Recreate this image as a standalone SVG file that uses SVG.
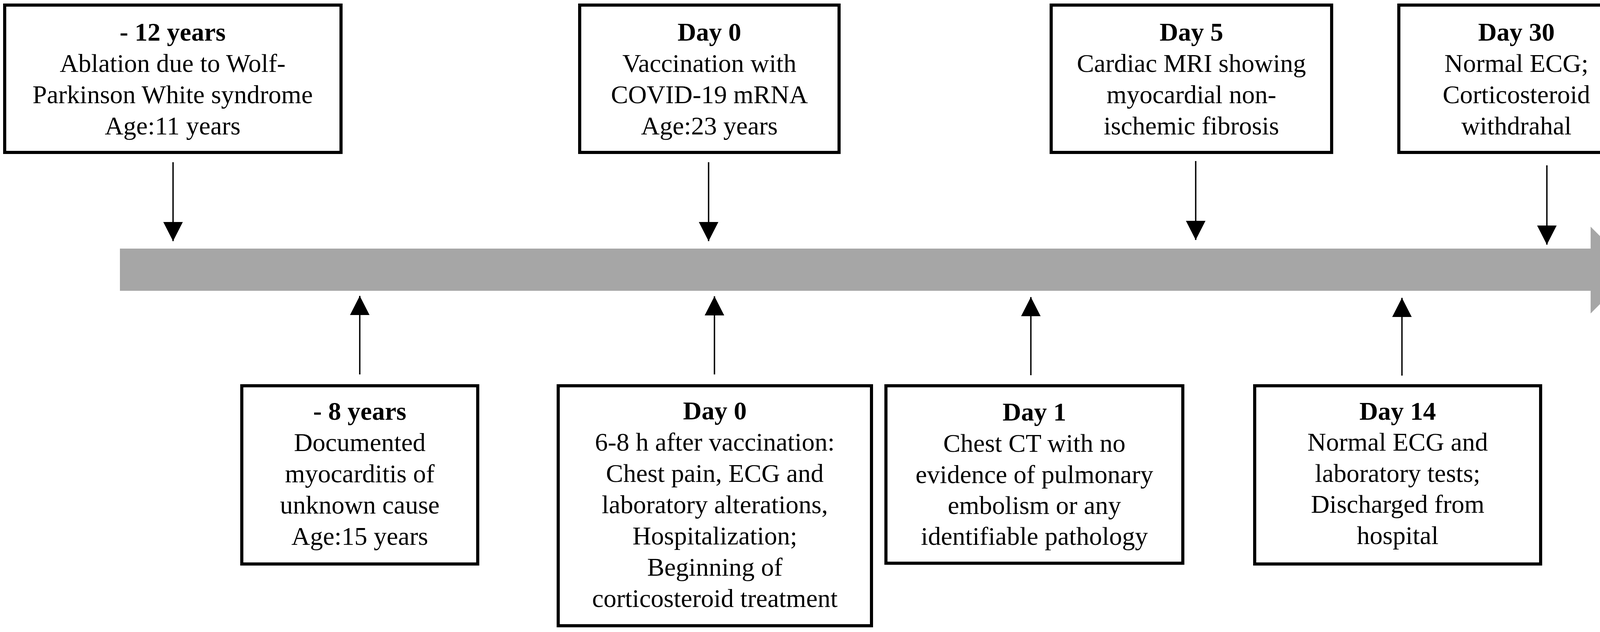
<svg xmlns="http://www.w3.org/2000/svg" width="4317" height="1617" viewBox="0 0 4317 1617">
<style>
.box{fill:#fff;stroke:#000;stroke-width:8}
.t{font-family:"Liberation Serif","Times New Roman",serif;font-size:66px;fill:#000;text-anchor:middle}
.b{font-weight:bold}
.conn{stroke:#000;stroke-width:3.5;fill:none}
</style>
<defs>
<marker id="ah" markerUnits="userSpaceOnUse" markerWidth="49" markerHeight="50" refX="49" refY="25" orient="auto" viewBox="0 0 49 50">
<path d="M0,0 L49,25 L0,50 z" fill="#000"/>
</marker>
</defs>
<rect width="4317" height="1617" fill="#fff"/>
<g id="timeline">
<polygon points="307,636 4072,636 4072,580 4183,691 4072,802 4072,744 307,744" fill="#a6a6a6"/>
</g>
<g id="connectors">
<line class="conn" x1="443" y1="415" x2="443" y2="617" marker-end="url(#ah)"/>
<line class="conn" x1="1814" y1="415" x2="1814" y2="617" marker-end="url(#ah)"/>
<line class="conn" x1="3061" y1="412" x2="3061" y2="614" marker-end="url(#ah)"/>
<line class="conn" x1="3960" y1="423" x2="3960" y2="626" marker-end="url(#ah)"/>
<line class="conn" x1="921" y1="958" x2="921" y2="757" marker-end="url(#ah)"/>
<line class="conn" x1="1829" y1="958" x2="1829" y2="758" marker-end="url(#ah)"/>
<line class="conn" x1="2639" y1="960" x2="2639" y2="760" marker-end="url(#ah)"/>
<line class="conn" x1="3589" y1="961" x2="3589" y2="762" marker-end="url(#ah)"/>
</g>
<g id="n-12years">
<rect class="box" x="12" y="13" width="861" height="377"/>
<text class="t b" x="442" y="104">- 12 years</text>
<text class="t" x="442" y="184">Ablation due to Wolf-</text>
<text class="t" x="442" y="264">Parkinson White syndrome</text>
<text class="t" x="442" y="344">Age:11 years</text>
</g>
<g id="n-day0-vacc">
<rect class="box" x="1484" y="13" width="664" height="377"/>
<text class="t b" x="1816" y="104">Day 0</text>
<text class="t" x="1816" y="184">Vaccination with</text>
<text class="t" x="1816" y="264">COVID-19 mRNA</text>
<text class="t" x="1816" y="344">Age:23 years</text>
</g>
<g id="n-day5">
<rect class="box" x="2691" y="13" width="718" height="377"/>
<text class="t b" x="3050" y="104">Day 5</text>
<text class="t" x="3050" y="184">Cardiac MRI showing</text>
<text class="t" x="3050" y="264">myocardial non-</text>
<text class="t" x="3050" y="344">ischemic fibrosis</text>
</g>
<g id="n-day30">
<rect class="box" x="3581" y="13" width="720" height="377"/>
<text class="t b" x="3882" y="104">Day 30</text>
<text class="t" x="3882" y="184">Normal ECG;</text>
<text class="t" x="3882" y="264">Corticosteroid</text>
<text class="t" x="3882" y="344">withdrahal</text>
</g>
<g id="n-8years">
<rect class="box" x="619" y="987" width="604" height="456"/>
<text class="t b" x="921" y="1074">- 8 years</text>
<text class="t" x="921" y="1154">Documented</text>
<text class="t" x="921" y="1234">myocarditis of</text>
<text class="t" x="921" y="1314">unknown cause</text>
<text class="t" x="921" y="1394">Age:15 years</text>
</g>
<g id="n-day0-symptoms">
<rect class="box" x="1429" y="987" width="802" height="614"/>
<text class="t b" x="1830" y="1073">Day 0</text>
<text class="t" x="1830" y="1153">6-8 h after vaccination:</text>
<text class="t" x="1830" y="1233">Chest pain, ECG and</text>
<text class="t" x="1830" y="1313">laboratory alterations,</text>
<text class="t" x="1830" y="1393">Hospitalization;</text>
<text class="t" x="1830" y="1473">Beginning of</text>
<text class="t" x="1830" y="1553">corticosteroid treatment</text>
</g>
<g id="n-day1">
<rect class="box" x="2268" y="987" width="760" height="454"/>
<text class="t b" x="2648" y="1076">Day 1</text>
<text class="t" x="2648" y="1156">Chest CT with no</text>
<text class="t" x="2648" y="1236">evidence of pulmonary</text>
<text class="t" x="2648" y="1315">embolism or any</text>
<text class="t" x="2648" y="1394">identifiable pathology</text>
</g>
<g id="n-day14">
<rect class="box" x="3212" y="987" width="732" height="456"/>
<text class="t b" x="3578" y="1074">Day 14</text>
<text class="t" x="3578" y="1153">Normal ECG and</text>
<text class="t" x="3578" y="1233">laboratory tests;</text>
<text class="t" x="3578" y="1312">Discharged from</text>
<text class="t" x="3578" y="1392">hospital</text>
</g>
</svg>
